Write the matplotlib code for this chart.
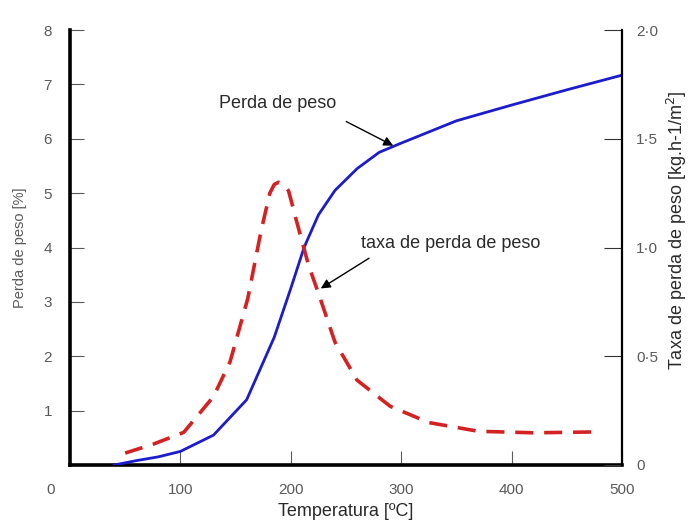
import matplotlib

matplotlib.use("Agg")

import matplotlib.pyplot as plt

# perda de peso (%), eixo esquerdo
temp_peso = [40, 60, 80, 100, 130, 160, 185, 200, 212, 225, 240, 260, 280, 300, 350, 400, 450, 500]
perda_peso = [0.0, 0.08, 0.15, 0.25, 0.55, 1.2, 2.35, 3.25, 4.0, 4.6, 5.05, 5.45, 5.75, 5.92, 6.33, 6.62, 6.9, 7.17]

# taxa de perda de peso, eixo direito
temp_taxa = [50, 75, 103, 130, 145, 161, 173, 181, 185, 189, 193, 198, 205, 216, 225, 240, 260, 290, 325, 370, 420, 475]
taxa_perda = [0.055, 0.095, 0.15, 0.315, 0.475, 0.765, 1.075, 1.25, 1.29, 1.3, 1.29, 1.26, 1.125, 0.92, 0.79, 0.565,
              0.39, 0.27, 0.195, 0.155, 0.148, 0.152]

x_ticks = [100, 200, 300, 400, 500]
left_ticks = [1, 2, 3, 4, 5, 6, 7, 8]
right_ticks = [0, 0.5, 1.0, 1.5, 2.0]
right_labels = ["0", "0·5", "1·0", "1·5", "2·0"]

plt.rcParams["font.family"] = ["Liberation Sans", "DejaVu Sans"]
GRAY = "#5a5a5a"
DARK = "#2a2a2a"

fig = plt.figure(figsize=(6.89, 5.24), dpi=100)
ax = fig.add_axes([0.1016, 0.1126, 0.8012, 0.8301])
ax2 = ax.twinx()

ax.plot(temp_peso, perda_peso, color="#1c1ccc", lw=2.0, zorder=3)
ax2.plot(temp_taxa, taxa_perda, color="#d42222", lw=2.6, dashes=(5, 3))

ax.set_xlim(0, 500)
ax.set_ylim(0, 8)
ax2.set_ylim(0, 2)

ax.spines["top"].set_visible(False)
ax2.spines["top"].set_visible(False)
ax.spines["left"].set_linewidth(2.6)
ax.spines["bottom"].set_linewidth(2.6)
ax2.spines["right"].set_linewidth(1.6)
ax2.spines["left"].set_visible(False)
ax2.spines["bottom"].set_visible(False)
ax.spines["right"].set_visible(False)

ax.set_xticks(x_ticks)
ax.set_yticks(left_ticks)
ax.tick_params(axis="both", direction="in", length=10, width=0.8, color=GRAY,
               labelcolor=GRAY, labelsize=11)
ax.tick_params(axis="y", pad=13)
ax.tick_params(axis="x", pad=13)
ax.text(-0.036, -0.058, "0", transform=ax.transAxes, ha="center", va="center",
        color=GRAY, fontsize=11)

ax2.set_yticks(right_ticks)
ax2.set_yticklabels(right_labels)
ax2.tick_params(axis="y", direction="in", length=13, width=0.8, color="#333333",
                labelcolor=GRAY, labelsize=11, pad=10)

ax.set_xlabel("Temperatura [ºC]", fontsize=13, color=DARK, labelpad=4)
ax.set_ylabel("Perda de peso [%]", fontsize=10.5, color=GRAY, labelpad=12)
ax2.set_ylabel("Taxa de perda de peso [kg.h-1/m$^2$]", fontsize=13, color=DARK)
ax2.yaxis.set_label_coords(1.078, 0.54)

arrow = dict(arrowstyle="-|>", color="black", lw=1.0, mutation_scale=14)
ax.text(188, 6.64, "Perda de peso", fontsize=13, color=DARK, ha="center", va="center")
ax.annotate("", xy=(295, 5.85), xytext=(248, 6.34), arrowprops=arrow)
ax.text(345, 4.08, "taxa de perda de peso", fontsize=13, color=DARK, ha="center", va="center")
ax.annotate("", xy=(225, 3.22), xytext=(273, 3.83), arrowprops=arrow)

fig.savefig("out.png", dpi=100)
